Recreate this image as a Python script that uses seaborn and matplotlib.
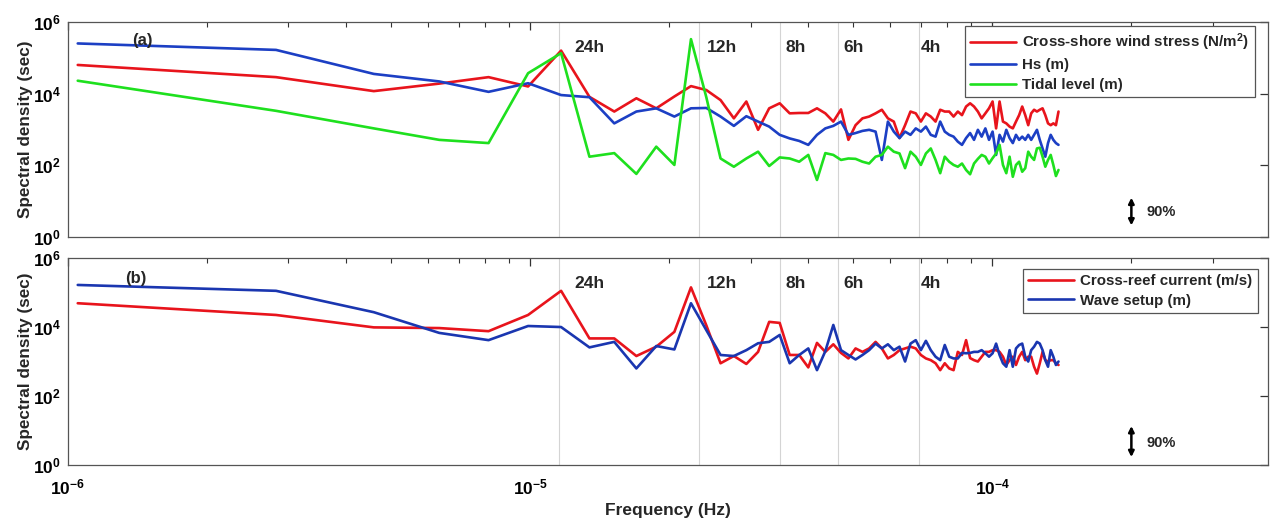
import numpy as np
import pandas as pd
import matplotlib
matplotlib.use("Agg")
import matplotlib.pyplot as plt
import seaborn as sns
from matplotlib.ticker import FixedLocator, FuncFormatter, LogLocator, NullLocator, NullFormatter

# ---------------- data ----------------
# spectral frequency grid (Hz): first estimate + resolution, 79 estimates up to Nyquist (hourly data)
f_first = 1.05e-6
f_step = 1.77e-6
n_freq = 79
freq = f_first + f_step * np.arange(n_freq)

# panel (a): log10 of spectral density
wind_log = [4.80, 4.46, 4.07, 4.28, 4.46, 4.20, 5.20, 3.91, 3.50, 3.87,
            3.59, 3.92, 4.21, 4.10, 3.82, 3.31, 3.78, 2.99, 3.59, 3.73,
            3.45, 3.46, 3.46, 3.59, 3.45, 3.22, 3.56, 2.71, 3.12, 3.31,
            3.36, 3.45, 3.55, 3.31, 3.22, 2.76, 3.12, 3.50, 3.45, 3.22,
            3.45, 3.36, 3.22, 3.55, 3.50, 3.50, 3.36, 3.50, 3.40, 3.64,
            3.73, 3.64, 3.50, 3.31, 3.45, 3.59, 3.78, 3.03, 3.78, 3.22,
            3.17, 3.08, 3.03, 3.22, 3.40, 3.64, 3.40, 3.12, 3.45, 3.55,
            3.50, 3.55, 3.59, 3.40, 3.17, 3.12, 3.17, 3.12, 3.50]
hs_log = [5.40, 5.22, 4.55, 4.34, 4.05, 4.29, 3.96, 3.90, 3.17, 3.50,
          3.59, 3.36, 3.59, 3.60, 3.36, 3.10, 3.37, 3.22, 3.08, 2.85,
          2.75, 2.68, 2.57, 2.85, 3.03, 3.10, 3.22, 2.85, 2.90, 2.96,
          2.99, 2.94, 2.15, 3.22, 2.94, 2.76, 2.94, 2.85, 3.03, 2.94,
          3.08, 2.85, 2.80, 3.22, 2.94, 2.85, 2.80, 2.66, 2.57, 2.76,
          2.90, 2.71, 2.99, 2.80, 3.03, 2.71, 2.94, 2.29, 2.85, 2.66,
          2.99, 2.76, 2.62, 2.85, 2.71, 2.80, 2.71, 2.85, 2.71, 2.85,
          2.99, 2.71, 2.47, 2.24, 2.62, 2.85, 2.71, 2.62, 2.57]
tide_log = [4.36, 3.52, 3.03, 2.71, 2.62, 4.57, 5.13, 2.24, 2.34, 1.76,
            2.52, 2.01, 5.52, 3.90, 2.19, 1.96, 2.19, 2.38, 1.98, 2.22,
            2.19, 2.10, 2.29, 1.59, 2.34, 2.29, 2.15, 2.19, 2.18, 2.10,
            2.05, 2.24, 2.29, 2.52, 2.38, 2.33, 1.92, 2.38, 2.24, 2.01,
            2.33, 2.47, 2.15, 1.78, 2.24, 2.10, 2.01, 1.96, 2.05, 1.87,
            1.75, 2.05, 2.18, 2.29, 2.24, 2.05, 2.20, 2.33, 2.57, 2.01,
            1.78, 2.24, 1.68, 2.01, 2.10, 1.82, 1.92, 2.38, 2.24, 2.15,
            2.47, 2.49, 2.24, 1.96, 2.15, 2.29, 2.01, 1.70, 1.87]

# panel (b)
current_log = [4.69, 4.35, 3.99, 3.97, 3.88, 4.35, 5.05, 3.67, 3.67, 3.16,
               3.43, 3.86, 5.15, 4.05, 2.95, 3.16, 2.93, 3.28, 4.15, 4.12,
               3.19, 3.19, 2.83, 3.54, 3.28, 3.50, 3.25, 3.09, 3.38, 3.28,
               3.38, 3.57, 3.38, 3.09, 3.19, 3.33, 3.38, 3.43, 3.38, 3.19,
               3.09, 3.04, 2.95, 2.75, 2.95, 2.80, 2.75, 3.28, 3.19, 3.62,
               3.10, 3.04, 3.00, 3.14, 3.28, 3.28, 3.33, 3.33, 3.28, 3.14,
               2.90, 3.04, 3.14, 2.90, 3.14, 3.28, 3.04, 3.14, 3.14, 2.85,
               2.65, 2.95, 3.28, 3.04, 3.00, 3.04, 3.04, 2.95, 2.90]
setup_log = [5.22, 5.05, 4.43, 3.83, 3.62, 4.03, 4.00, 3.41, 3.57, 2.80,
             3.45, 3.35, 4.69, 3.91, 3.19, 3.16, 3.33, 3.53, 3.57, 3.77,
             2.95, 3.19, 3.38, 2.75, 3.30, 4.06, 3.33, 3.19, 3.06, 3.19,
             3.33, 3.52, 3.38, 3.50, 3.33, 3.43, 3.00, 3.52, 3.62, 3.33,
             3.60, 3.33, 3.14, 3.04, 3.48, 3.14, 3.09, 3.09, 3.25, 3.24,
             3.25, 3.28, 3.28, 3.33, 3.24, 3.14, 3.24, 3.52, 3.19, 2.95,
             2.85, 3.33, 2.85, 3.38, 3.48, 3.52, 3.14, 3.00, 3.33, 3.43,
             3.57, 3.52, 3.33, 3.04, 2.85, 3.33, 3.14, 2.90, 3.00]

labels_a = ["Cross-shore wind stress (N/m$^{2}$)", "Hs (m)", "Tidal level (m)"]
labels_b = ["Cross-reef current (m/s)", "Wave setup (m)"]
colors_a = ["#e8141c", "#1c3fc4", "#1ee01e"]
colors_b = ["#e8141c", "#1a36b0"]

period_hours = [24, 12, 8, 6, 4]
period_labels = ["24h", "12h", "8h", "6h", "4h"]
conf_text = "90%"

# ---------------- style ----------------
sns.set_style("white")
plt.rcParams["font.family"] = ["Liberation Sans", "DejaVu Sans"]
plt.rcParams["font.weight"] = "bold"
plt.rcParams["axes.labelweight"] = "bold"
plt.rcParams["mathtext.fontset"] = "custom"
plt.rcParams["mathtext.rm"] = "Liberation Sans:bold"
plt.rcParams["mathtext.it"] = "Liberation Sans:bold"
plt.rcParams["mathtext.bf"] = "Liberation Sans:bold"
plt.rcParams["mathtext.default"] = "bf"

fig = plt.figure(figsize=(12.7, 5.19), dpi=100)
fig.patch.set_facecolor("white")
axa = fig.add_axes([0.0535, 0.5434, 0.9449, 0.4143])
axb = fig.add_axes([0.0535, 0.1040, 0.9449, 0.3988])

dfa = pd.DataFrame({
    "freq": np.tile(freq, 3),
    "psd": np.power(10.0, np.concatenate([wind_log, hs_log, tide_log])),
    "series": np.repeat(labels_a, n_freq),
})
dfb = pd.DataFrame({
    "freq": np.tile(freq, 2),
    "psd": np.power(10.0, np.concatenate([current_log, setup_log])),
    "series": np.repeat(labels_b, n_freq),
})

for ax in (axa, axb):
    ax.set_xscale("log")
    ax.set_yscale("log")

sns.lineplot(data=dfa, x="freq", y="psd", hue="series", hue_order=labels_a,
             palette=colors_a, estimator=None, sort=False, lw=1.9, ax=axa, legend=False)
sns.lineplot(data=dfb, x="freq", y="psd", hue="series", hue_order=labels_b,
             palette=colors_b, estimator=None, sort=False, lw=1.9, ax=axb, legend=False)

handles_a = list(axa.lines[:3])
handles_b = list(axb.lines[:2])

label_shift = [1.075, 1.04, 1.03, 1.03, 1.01]
exp_fmt = FuncFormatter(lambda v, p: r"$\mathbf{10^{%d}}$" % round(np.log10(v)))
for ax, ytxt in ((axa, 1.9e5), (axb, 1.8e5)):
    ax.set_xlim(1e-6, 3.95e-4)
    ax.set_ylim(1, 1e6)
    for h, lab, sh in zip(period_hours, period_labels, label_shift):
        fp = 1.0 / (h * 3600.0)
        ax.axvline(fp, color="#d4d4d4", lw=0.8, zorder=0)
        ax.text(fp * sh, ytxt, lab, fontsize=12.5, fontweight="bold", ha="left", va="center")
    ax.yaxis.set_major_locator(FixedLocator([1, 1e2, 1e4, 1e6]))
    ax.yaxis.set_minor_locator(NullLocator())
    ax.yaxis.set_major_formatter(exp_fmt)
    ax.xaxis.set_major_locator(FixedLocator([1e-6, 1e-5, 1e-4]))
    ax.xaxis.set_minor_locator(LogLocator(base=10, subs=np.arange(2, 10), numticks=30))
    ax.xaxis.set_minor_formatter(NullFormatter())
    ax.xaxis.set_major_formatter(exp_fmt)
    ax.tick_params(which="both", direction="in", top=True, right=True, colors="#333333",
                   labelcolor="black", labelsize=12.5)
    ax.tick_params(axis="x", which="major", pad=9)
    ax.tick_params(axis="y", which="major", pad=5)
    ax.tick_params(which="major", length=6, width=0.9)
    ax.tick_params(which="minor", length=3.5, width=0.8)
    for s in ax.spines.values():
        s.set_color("#555555")
        s.set_linewidth(0.9)
    ax.set_ylabel("Spectral density (sec)", fontsize=12.3, fontweight="bold", labelpad=0)
    ax.set_xlabel("")

axa.tick_params(labelbottom=False)
axb.set_xlabel("Frequency (Hz)", fontsize=12.5, fontweight="bold", labelpad=4)

axa.text(1.38e-6, 3.1e5, "(a)", fontsize=12, fontweight="bold", ha="left", va="center")
axb.text(1.33e-6, 2.6e5, "(b)", fontsize=12, fontweight="bold", ha="left", va="center")

# 90% confidence interval markers
for ax, lo, hi, ty in ((axa, 2.1, 12.5, 5.0), (axb, 1.7, 13.5, 4.4)):
    ax.annotate("", xy=(2e-4, lo), xytext=(2e-4, hi),
                arrowprops=dict(arrowstyle="<|-|>", color="black", lw=1.8,
                                mutation_scale=8, shrinkA=0, shrinkB=0))
    ax.text(2.16e-4, ty, conf_text, fontsize=10.5, fontweight="bold", ha="left", va="center")

leg_kw = dict(loc="upper right", fontsize=10.9, frameon=True, fancybox=False,
              framealpha=1, edgecolor="#555555", borderaxespad=0,
              handlelength=3.0, handletextpad=0.45, labelspacing=0.36, borderpad=0.35)
la = axa.legend(handles_a, labels_a, bbox_to_anchor=(0.989, 0.981), **leg_kw)
lb = axb.legend(handles_b, labels_b, bbox_to_anchor=(0.9915, 0.947), **leg_kw)
for lg in (la, lb):
    lg.get_frame().set_linewidth(0.9)
    for t in lg.get_texts():
        t.set_fontweight("bold")

fig.savefig("out.png", dpi=100, facecolor="white")
